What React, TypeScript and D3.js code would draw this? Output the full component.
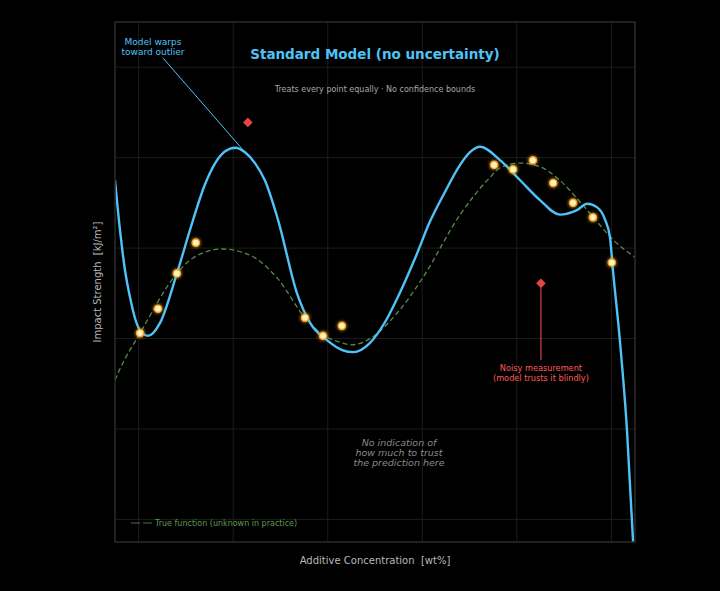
import React from "react";
import * as d3 from "d3";

// true underlying response (dashed)
const trueX = [-0.5, -0.39, 0.03, 0.81, 1.15, 1.76, 2.36, 2.93, 3.52, 3.9, 4.32, 4.5, 4.64, 5.53, 6.02, 6.8, 7.43, 7.65, 8.07, 8.49, 8.91, 9.34, 9.7, 10.04, 10.5];
const trueY = [-0.46, -0.33, 0.06, 0.72, 0.89, 0.99, 0.92, 0.67, 0.23, 0.04, -0.05, -0.07, -0.06, 0.32, 0.68, 1.37, 1.78, 1.89, 1.94, 1.9, 1.75, 1.51, 1.29, 1.09, 0.9];

// fitted model curve
const fitX = [-0.5, -0.39, -0.29, -0.18, -0.08, 0.03, 0.2, 0.45, 0.81, 1.15, 1.4, 1.62, 1.83, 2.04, 2.25, 2.46, 2.67, 2.95, 3.35, 3.63, 3.99, 4.32, 4.54, 4.89, 5.21, 5.53, 5.85, 6.16, 6.48, 6.8, 7.01, 7.22, 7.65, 8.07, 8.49, 8.91, 9.27, 9.49, 9.7, 9.87, 9.97, 10.04, 10.18, 10.33, 10.46, 10.5];
const fitY = [1.75, 1.18, 0.76, 0.45, 0.23, 0.09, 0.03, 0.17, 0.72, 1.31, 1.7, 1.94, 2.07, 2.11, 2.06, 1.94, 1.75, 1.31, 0.5, 0.17, -0.02, -0.13, -0.15, -0.05, 0.18, 0.51, 0.89, 1.29, 1.62, 1.92, 2.06, 2.12, 1.97, 1.75, 1.53, 1.37, 1.42, 1.49, 1.45, 1.31, 1.12, 0.72, -0.02, -1.01, -2.25, -2.67];

// measurements
const obsX = [0.03, 0.41, 0.81, 1.21, 3.52, 3.9, 4.3, 7.52, 7.92, 8.34, 8.77, 9.19, 9.61, 10.01];
const obsY = [0.06, 0.33, 0.72, 1.06, 0.23, 0.03, 0.14, 1.92, 1.87, 1.97, 1.72, 1.5, 1.34, 0.84];

// noisy outliers
const outX = [2.31, 8.51];
const outY = [2.39, 0.61];

const xTicks = [0, 2, 4, 6, 8, 10];
const yTicks = [-2, -1, 0, 1, 2, 3];

const W = 720;
const H = 591;
const m = { left: 115, right: 85, top: 22, bottom: 49 };
const BLUE = "#4fc3f7";
const RED = "#ff4d4d";
const GREEN = "#5f9a4f";
const font = "DejaVu Sans, sans-serif";

export default function App() {
  const x = d3.scaleLinear().domain([-0.5, 10.5]).range([m.left, W - m.right]);
  const y = d3.scaleLinear().domain([-2.25, 3.5]).range([H - m.bottom, m.top]);

  const line = d3
    .line<[number, number]>()
    .x((d) => x(d[0]))
    .y((d) => y(d[1]))
    .curve(d3.curveMonotoneX);

  const truePath = line(trueX.map((v, i) => [v, trueY[i]]));
  const fitPath = line(fitX.map((v, i) => [v, fitY[i]]));

  const x0 = x.range()[0];
  const x1 = x.range()[1];
  const y0 = y.range()[1];
  const y1 = y.range()[0];
  const cx = (x0 + x1) / 2;

  // annotation anchors
  const peakX = x(2.25);
  const peakY = y(2.06);
  const noisyX = x(outX[1]);
  const noisyY = y(outY[1]);

  return (
    <svg
      width={W}
      height={H}
      style={{ position: "absolute", left: 0, top: 0, background: "#000", fontFamily: font }}
    >
      <defs>
        <clipPath id="plot">
          <rect x={x0} y={y0} width={x1 - x0} height={y1 - y0} />
        </clipPath>
        <filter id="glow" x="-100%" y="-100%" width="300%" height="300%">
          <feGaussianBlur stdDeviation="1.5" />
        </filter>
      </defs>
      <rect x={0} y={0} width={W} height={H} fill="#000" />

      {/* grid */}
      <g stroke="#1c1c1c" strokeWidth={1}>
        {xTicks.map((t) => (
          <line key={"gx" + t} x1={x(t)} x2={x(t)} y1={y0} y2={y1} />
        ))}
        {yTicks.map((t) => (
          <line key={"gy" + t} x1={x0} x2={x1} y1={y(t)} y2={y(t)} />
        ))}
      </g>

      <g clipPath="url(#plot)">
        <path
          d={truePath ?? ""}
          fill="none"
          stroke={GREEN}
          strokeWidth={1.3}
          strokeDasharray="5,3"
          opacity={0.9}
        />
        <path d={fitPath ?? ""} fill="none" stroke={BLUE} strokeWidth={2.4} />
      </g>

      {/* measurements */}
      {obsX.map((v, i) => (
        <g key={"o" + i}>
          <circle cx={x(v)} cy={y(obsY[i])} r={5.2} fill="#f5a623" opacity={0.55} filter="url(#glow)" />
          <circle cx={x(v)} cy={y(obsY[i])} r={3.6} fill="#fff3c8" stroke="#f5a623" strokeWidth={1.4} />
        </g>
      ))}

      {/* outliers */}
      {outX.map((v, i) => {
        const px = x(v);
        const py = y(outY[i]);
        const s = 4.8;
        return (
          <path
            key={"d" + i}
            d={`M${px},${py - s}L${px + s},${py}L${px},${py + s}L${px - s},${py}Z`}
            fill={RED}
            opacity={0.9}
          />
        );
      })}

      {/* frame */}
      <rect x={x0} y={y0} width={x1 - x0} height={y1 - y0} fill="none" stroke="#2b2b2b" strokeWidth={1.5} />

      {/* titles */}
      <text x={cx} y={59} textAnchor="middle" fontSize={13.5} fontWeight="bold" fill={BLUE}>
        Standard Model (no uncertainty)
      </text>
      <text x={cx} y={92} textAnchor="middle" fontSize={8} fill="#a8a8a8">
        Treats every point equally · No confidence bounds
      </text>

      {/* outlier annotation */}
      <text x={153} y={45} textAnchor="middle" fontSize={9} fill={BLUE}>
        Model warps
      </text>
      <text x={153} y={55} textAnchor="middle" fontSize={9} fill={BLUE}>
        toward outlier
      </text>
      <line x1={163} y1={58} x2={peakX} y2={peakY} stroke={BLUE} strokeWidth={1} />

      <line x1={noisyX} y1={noisyY + 5} x2={noisyX} y2={360} stroke={RED} strokeWidth={1.2} opacity={0.85} />
      <text x={noisyX} y={371} textAnchor="middle" fontSize={8.2} fill="#ff5a5a">
        Noisy measurement
      </text>
      <text x={noisyX} y={381} textAnchor="middle" fontSize={8.2} fill="#ff5a5a">
        (model trusts it blindly)
      </text>

      <g fontSize={9.5} fontStyle="italic" fill="#8a8a8a" textAnchor="middle">
        <text x={399} y={446}>No indication of</text>
        <text x={399} y={456}>how much to trust</text>
        <text x={399} y={466}>the prediction here</text>
      </g>

      {/* legend */}
      <line x1={131} x2={152} y1={523} y2={523} stroke={GREEN} strokeWidth={1.2} strokeDasharray="9,3" opacity={0.75} />
      <text x={155} y={526} fontSize={8} fill={GREEN}>
        True function (unknown in practice)
      </text>

      {/* axis labels */}
      <text
        x={cx}
        y={564}
        textAnchor="middle"
        fontSize={10}
        fill="#b8b8b8"
        style={{ whiteSpace: "pre" }}
      >
        Additive Concentration  [wt%]
      </text>
      <text
        transform={`translate(101,${(y0 + y1) / 2}) rotate(-90)`}
        textAnchor="middle"
        fontSize={10}
        fill="#b8b8b8"
        style={{ whiteSpace: "pre" }}
      >
        Impact Strength  [kJ/m²]
      </text>
    </svg>
  );
}
